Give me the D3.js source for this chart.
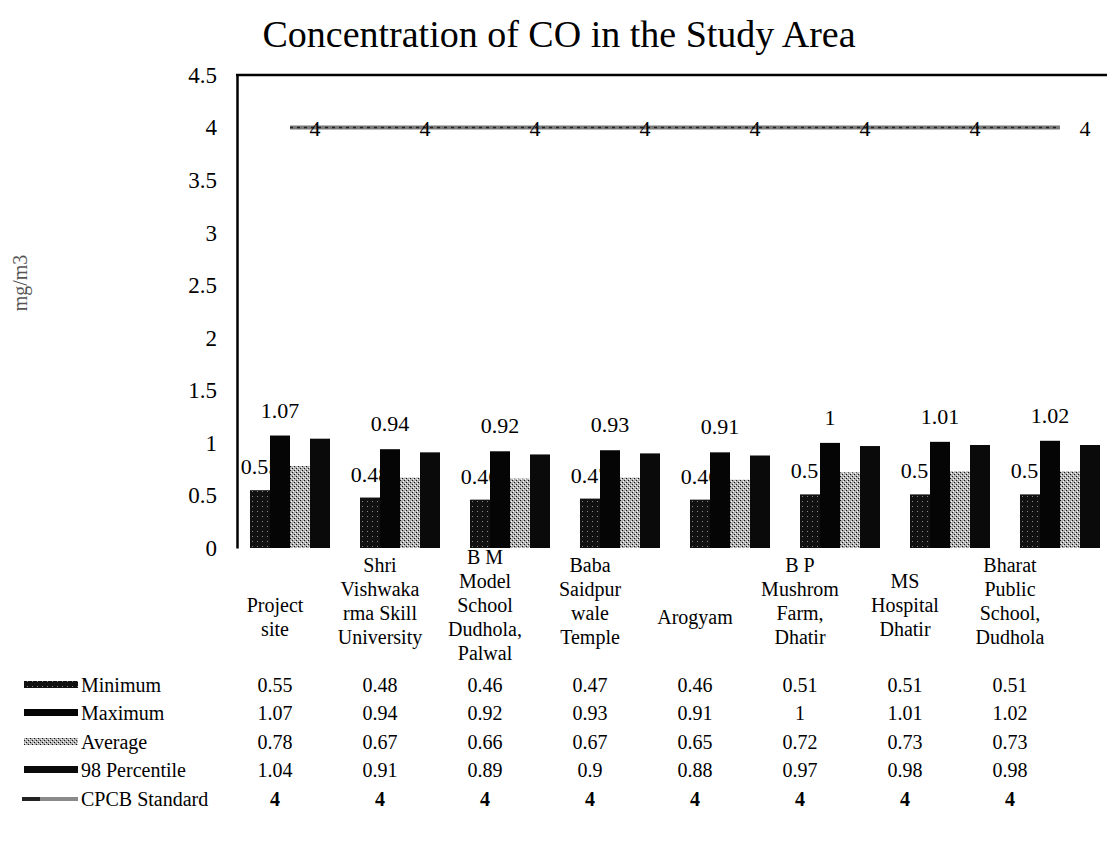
<!DOCTYPE html>
<html><head><meta charset="utf-8">
<script src="https://cdn.jsdelivr.net/npm/d3@7"></script>
<style>
body{margin:0;background:#fff;}
svg{display:block;font-family:"Liberation Serif","Times New Roman",serif;}
</style></head>
<body><svg id="c" width="1107" height="850"></svg>
<script>
const categories = [
  ["Project","site"],
  ["Shri","Vishwaka","rma Skill","University"],
  ["B M","Model","School","Dudhola,","Palwal"],
  ["Baba","Saidpur","wale","Temple"],
  ["Arogyam"],
  ["B P","Mushrom","Farm,","Dhatir"],
  ["MS","Hospital","Dhatir"],
  ["Bharat","Public","School,","Dudhola"]
];
const seriesNames = ["Minimum","Maximum","Average","98 Percentile","CPCB Standard"];
const minimum = [0.55,0.48,0.46,0.47,0.46,0.51,0.51,0.51];
const maximum = [1.07,0.94,0.92,0.93,0.91,1,1.01,1.02];
const average = [0.78,0.67,0.66,0.67,0.65,0.72,0.73,0.73];
const percentile98 = [1.04,0.91,0.89,0.9,0.88,0.97,0.98,0.98];
const cpcb = [4,4,4,4,4,4,4,4];
const yTicks = [0,0.5,1,1.5,2,2.5,3,3.5,4,4.5];
const title = "Concentration of CO in the Study Area";
const yTitle = "mg/m3";

const svg = d3.select("#c");
const defs = svg.append("defs");
const pat = defs.append("pattern").attr("id","stip").attr("width",4).attr("height",4).attr("patternUnits","userSpaceOnUse");
pat.append("rect").attr("width",4).attr("height",4).attr("fill","#b0b0b0");
pat.append("rect").attr("x",0).attr("y",0).attr("width",1).attr("height",1).attr("fill","#111");
pat.append("rect").attr("x",2).attr("y",2).attr("width",1).attr("height",1).attr("fill","#111");
pat.append("rect").attr("x",1).attr("y",3).attr("width",1).attr("height",1).attr("fill","#fff");
pat.append("rect").attr("x",3).attr("y",1).attr("width",1).attr("height",1).attr("fill","#fff");
const pat2 = defs.append("pattern").attr("id","stipMin").attr("width",5).attr("height",5).attr("patternUnits","userSpaceOnUse");
pat2.append("rect").attr("width",5).attr("height",5).attr("fill","#111");
pat2.append("rect").attr("x",2).attr("y",1).attr("width",1).attr("height",1).attr("fill","#888");

const idx = d3.range(categories.length);
const y = d3.scaleLinear().domain([0,4.5]).range([548,75]);
const xBar = d3.scaleBand().domain(idx).range([235,1115]);
const xTab = d3.scaleBand().domain(idx).range([222.5,1062.5]);
const barW = 20;
const barSeries = [
  {name:"Minimum", vals:minimum, fill:"url(#stipMin)"},
  {name:"Maximum", vals:maximum, fill:"#050505"},
  {name:"Average", vals:average, fill:"url(#stip)"},
  {name:"98 Percentile", vals:percentile98, fill:"#0a0a0a"}
];
const bc = i => xBar(i) + xBar.bandwidth()/2;
const tc = i => xTab(i) + xTab.bandwidth()/2;

// title
svg.append("text").attr("x",559).attr("y",47).attr("text-anchor","middle")
  .attr("font-size",38).text(title);

// y title
svg.append("text").attr("transform","translate(27,283) rotate(-90)").attr("text-anchor","middle")
  .attr("font-size",20).attr("fill","#555").text(yTitle);

// y axis
const yAxis = d3.axisLeft(y).tickValues(yTicks).tickSize(0).tickPadding(20).tickFormat(d3.format("~g"));
const ga = svg.append("g").attr("transform","translate(237,0)").call(yAxis);
ga.select(".domain").attr("stroke","#000").attr("stroke-width",2.5);
ga.selectAll("text").attr("font-size",23).attr("font-family","Liberation Serif").attr("fill","#000");
svg.append("line").attr("x1",236).attr("x2",1107).attr("y1",y(4.5)).attr("y2",y(4.5)).attr("stroke","#000").attr("stroke-width",2.5);

// min labels (behind bars)
svg.append("g").selectAll("text").data(idx).join("text")
  .attr("x",i=>bc(i)-40+barW/2).attr("y",i=>y(minimum[i])-16)
  .attr("text-anchor","middle").attr("font-size",22).text(i=>minimum[i]);

// bars
barSeries.forEach((s,k)=>{
  svg.append("g").selectAll("rect").data(idx).join("rect")
    .attr("x",i=>bc(i)-40+k*barW).attr("width",barW)
    .attr("y",i=>y(s.vals[i])).attr("height",i=>y(0)-y(s.vals[i]))
    .attr("fill",s.fill);
});

// max labels
svg.append("g").selectAll("text").data(idx).join("text")
  .attr("x",i=>bc(i)-40+barW*1.5).attr("y",i=>y(maximum[i])-18)
  .attr("text-anchor","middle").attr("font-size",22).text(i=>maximum[i]);

// CPCB line
const line = d3.line().x(i=>bc(i)).y(i=>y(cpcb[i]));
svg.append("path").datum(idx).attr("d",line).attr("fill","none").attr("stroke","#7a7a7a").attr("stroke-width",4);
svg.append("path").datum(idx).attr("d",line).attr("fill","none").attr("stroke","#222").attr("stroke-width",1.5).attr("stroke-dasharray","3 4");
svg.append("g").selectAll("text").data(idx).join("text")
  .attr("x",i=>bc(i)+25).attr("y",i=>y(cpcb[i])+8)
  .attr("text-anchor","middle").attr("font-size",22).text(i=>cpcb[i]);

// category labels
const lh = 24;
const centerByLines = {1:617, 2:617, 3:605, 4:601, 5:605};
categories.forEach((lines,i)=>{
  const n = lines.length;
  const c = centerByLines[n];
  const t = svg.append("text").attr("text-anchor","middle").attr("font-size",20);
  lines.forEach((ln,j)=>{
    t.append("tspan").attr("x",tc(i))
      .attr("y",c + 7 - (n-1)*lh/2 + j*lh).text(ln);
  });
});

// data table
const rows = [minimum,maximum,average,percentile98,cpcb];
const rowY = [692,720,749,777,806];
rows.forEach((vals,r)=>{
  svg.append("g").selectAll("text").data(idx).join("text")
    .attr("x",i=>tc(i)).attr("y",rowY[r])
    .attr("text-anchor","middle").attr("font-size",20)
    .attr("font-weight", r===4 ? "bold":"normal").text(i=>vals[i]);
  if(r<4){
    svg.append("rect").attr("x",24).attr("y",rowY[r]-11).attr("width",54).attr("height",7)
      .attr("fill", barSeries[r].fill);
  } else {
    svg.append("line").attr("x1",22).attr("x2",78).attr("y1",rowY[r]-7).attr("y2",rowY[r]-7)
      .attr("stroke","#8a8a8a").attr("stroke-width",4);
    svg.append("line").attr("x1",22).attr("x2",40).attr("y1",rowY[r]-7).attr("y2",rowY[r]-7)
      .attr("stroke","#222").attr("stroke-width",4);
  }
  svg.append("text").attr("x",81).attr("y",rowY[r]).attr("font-size",20).text(seriesNames[r]);
});
</script></body></html>
